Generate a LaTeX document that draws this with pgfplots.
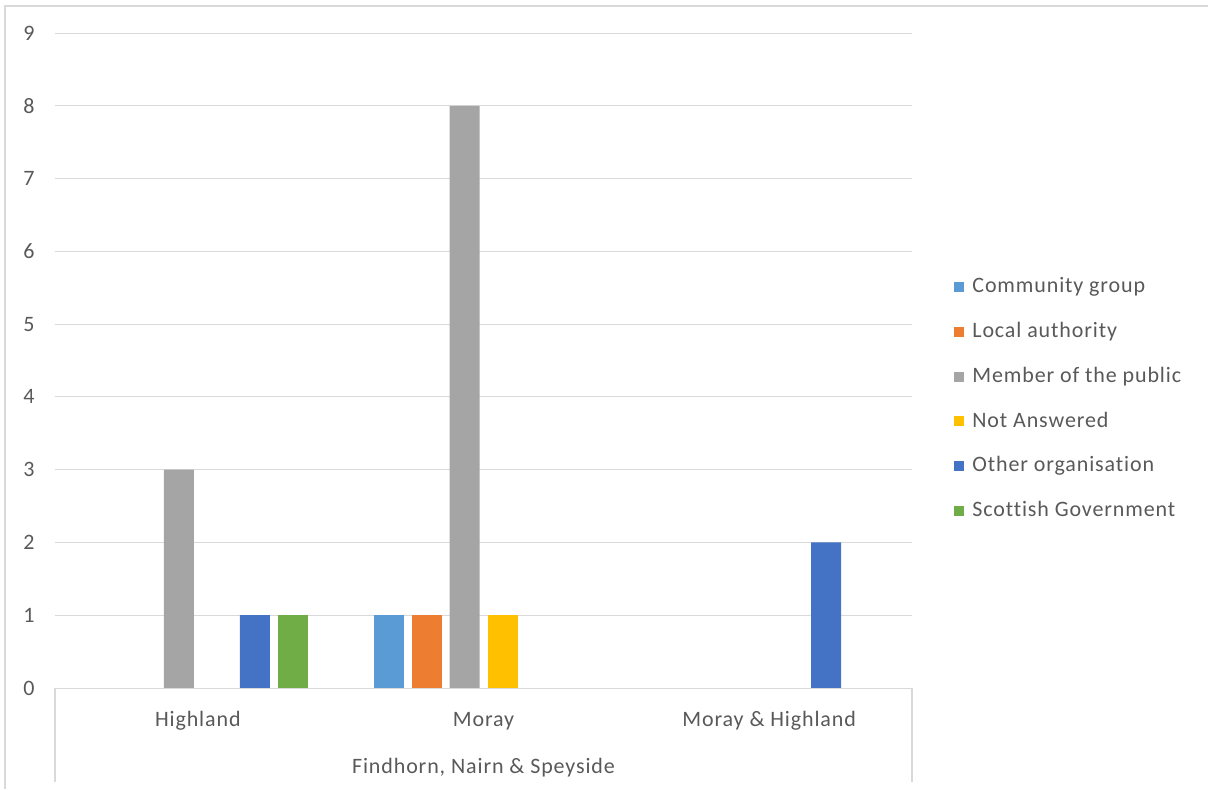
\documentclass[border=0pt]{standalone}
\usepackage{fontspec}
\setmainfont{Carlito}[LetterSpace=4, Ligatures={NoCommon}]
\usepackage{pgfplots}
\pgfplotsset{compat=1.18}

\definecolor{cgroup}{HTML}{5B9BD5}
\definecolor{lauth}{HTML}{ED7D31}
\definecolor{mpublic}{HTML}{A5A5A5}
\definecolor{notans}{HTML}{FFC000}
\definecolor{otherorg}{HTML}{4472C4}
\definecolor{scotgov}{HTML}{70AD47}
\definecolor{gridc}{HTML}{D9D9D9}
\definecolor{txt}{HTML}{595959}

\begin{document}
\begin{tikzpicture}
  \path[use as bounding box] (0,0) rectangle (604pt,394.5pt);
  % chart area border (top and left only visible)
  \draw[gridc, line width=0.6pt] (2.5pt,0) -- (2.5pt,391.5pt) -- (604pt,391.5pt);

  \begin{axis}[
      at={(27.5pt,50.5pt)}, anchor=south west,
      scale only axis, width=428.5pt, height=327.5pt,
      ybar=4pt, bar width=15pt,
      xmin=-0.5, xmax=2.5, ymin=0, ymax=9,
      xtick={0,1,2},
      xticklabels={Highland, Moray, Moray \& Highland},
      ytick={0,1,...,9},
      ymajorgrids, major grid style={gridc, line width=0.5pt},
      axis line style={draw=none},
      major tick length=0pt,
      font=\fontsize{11}{13}\selectfont,
      tick label style={text=txt, font=\fontsize{11}{13}\selectfont},
      /pgf/number format/assume math mode=true,
      yticklabel style={anchor=east, inner sep=0pt, xshift=-10pt},
      xticklabel style={anchor=base, inner sep=0pt, yshift=-19pt},
      clip=false,
      legend image code/.code={\fill[#1, draw=none] (0pt,0.3pt) rectangle (5pt,5.3pt);},
      legend style={draw=none, fill=none, at={(1.049,0.441)}, anchor=west,
        inner sep=0pt, row sep=11.9pt, column sep=4pt,
        font=\fontsize{11}{13}\selectfont, text=txt,
        nodes={inner sep=0pt, text height=8pt, text depth=2.5pt, anchor=base west}},
      legend cell align=left,
    ]

    \addplot[fill=cgroup, draw=none] coordinates {(1,1)};
    \addplot[fill=lauth, draw=none] coordinates {(1,1)};
    \addplot[fill=mpublic, draw=none] coordinates {(0,3) (1,8)};
    \addplot[fill=notans, draw=none] coordinates {(1,1)};
    \addplot[fill=otherorg, draw=none] coordinates {(0,1) (2,2)};
    \addplot[fill=scotgov, draw=none] coordinates {(0,1)};

    \legend{Community group, Local authority, Member of the public,
      Not Answered, Other organisation, Scottish Government}

    % axis line and multi-level category box
    \draw[gridc, line width=0.5pt] (axis description cs:0,0) -- (axis description cs:1,0);
    \draw[gridc, line width=0.6pt] (axis description cs:0,0) -- ++(0pt,-47pt);
    \draw[gridc, line width=0.6pt] (axis description cs:1,0) -- ++(0pt,-47pt);
    \node[text=txt, anchor=base, inner sep=0pt, yshift=-42.5pt]
      at (axis cs:1,0) {Findhorn, Nairn \& Speyside};
  \end{axis}
\end{tikzpicture}
\end{document}
